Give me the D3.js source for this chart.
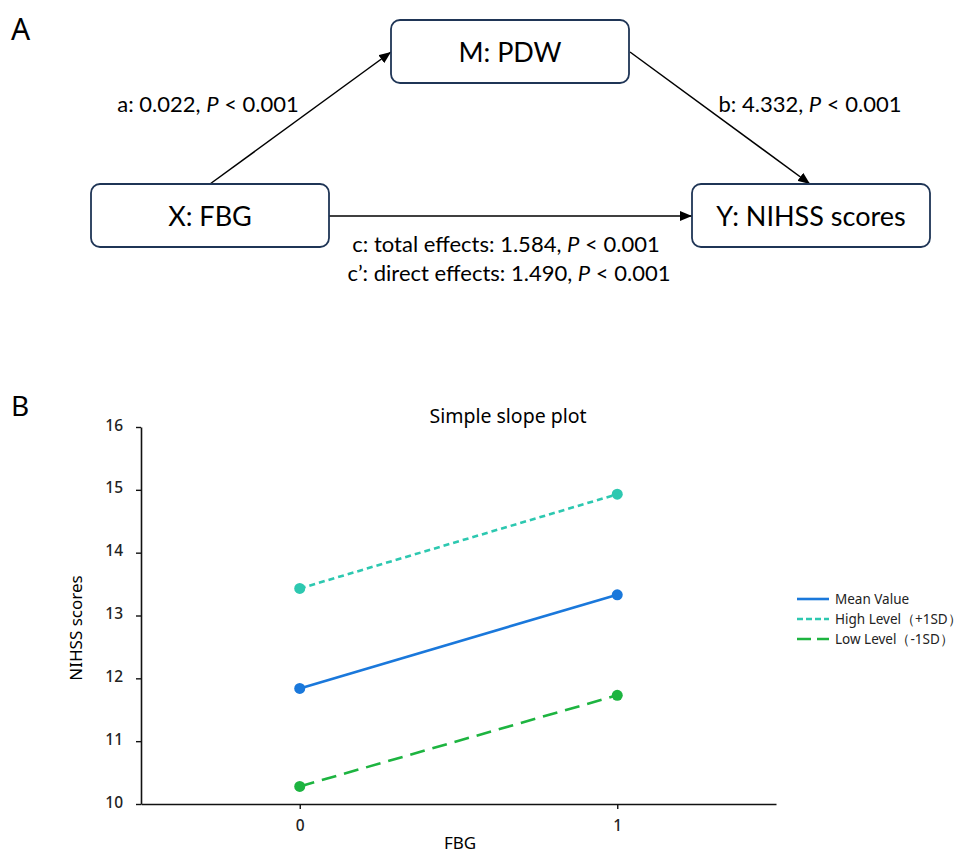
<!DOCTYPE html>
<html>
<head>
<meta charset="utf-8">
<script src="https://cdn.jsdelivr.net/npm/d3@7"></script>
<style>
    body { margin: 0; background: #fff; }
    svg { display: block; }
</style>
</head>
<body>
<div id="chart"></div>
<script>
// Panel A: mediation model
const nodeLabels = ["M: PDW", "X: FBG", "Y: NIHSS scores"];
const pathA = ["a: 0.022, ", "P", " < 0.001"];
const pathB = ["b: 4.332, ", "P", " < 0.001"];
const pathC = ["c: total effects: 1.584, ", "P", " < 0.001"];
const pathC2 = ["c\u2019: direct effects: 1.490, ", "P", " < 0.001"];

// Panel B: simple slope plot
const fbgLevels = [0, 1];
const meanValues = [11.84, 13.33];
const highValues = [13.43, 14.93];
const lowValues = [10.28, 11.73];
const seriesNames = ["Mean Value", "High Level\uff08+1SD\uff09", "Low Level\uff08-1SD\uff09"];
const yTicks = [10, 11, 12, 13, 14, 15, 16];

const width = 964, height = 853;
const svg = d3.select("#chart").append("svg")
    .attr("width", width)
    .attr("height", height);

const diagFont = "Lato, 'Open Sans', sans-serif";
const plotFont = "'Noto Sans', 'Open Sans', sans-serif";

svg.append("text")
    .attr("x", 11).attr("y", 40)
    .style("font-family", plotFont)
    .style("font-size", "30px")
    .text("A");

svg.append("defs").append("marker")
    .attr("id", "arrow")
    .attr("viewBox", "0 0 12 10")
    .attr("refX", 12).attr("refY", 5)
    .attr("markerWidth", 12).attr("markerHeight", 10)
    .attr("markerUnits", "userSpaceOnUse")
    .attr("orient", "auto")
    .append("path")
    .attr("d", "M0,0L12,5L0,10Z")
    .attr("fill", "#000");

// box layout
const boxW = 238, boxH = 63;
const boxes = [
    { x: 391, y: 20 },
    { x: 91, y: 184 },
    { x: 692, y: 184 }
];

const arrows = [
    [[210, 184], [391, 52]],
    [[630, 52], [810, 184]],
    [[328, 216], [692, 216]]
];

svg.selectAll("line.arrow")
    .data(arrows)
    .join("line")
    .attr("class", "arrow")
    .attr("x1", d => d[0][0]).attr("y1", d => d[0][1])
    .attr("x2", d => d[1][0]).attr("y2", d => d[1][1])
    .attr("stroke", "#000")
    .attr("stroke-width", 1.5)
    .attr("marker-end", "url(#arrow)");

const node = svg.selectAll("g.node")
    .data(nodeLabels)
    .join("g")
    .attr("class", "node")
    .attr("transform", (d, i) => `translate(${boxes[i].x},${boxes[i].y})`);

node.append("rect")
    .attr("width", boxW).attr("height", boxH)
    .attr("rx", 9)
    .attr("fill", "#fff")
    .attr("stroke", "#1f3556")
    .attr("stroke-width", 1.8);

node.append("text")
    .attr("x", boxW / 2).attr("y", boxH / 2 + 10)
    .attr("text-anchor", "middle")
    .style("font-family", diagFont)
    .style("font-size", "27px")
    .text(d => d);

function pathLabel(parts, x, y) {
    const t = svg.append("text")
        .attr("x", x).attr("y", y)
        .attr("text-anchor", "middle")
        .style("font-family", diagFont)
        .style("font-size", "22px");
    parts.forEach((p, i) => {
        t.append("tspan")
            .style("font-style", i === 1 ? "italic" : "normal")
            .text(p);
    });
}

pathLabel(pathA, 208, 112);
pathLabel(pathB, 810, 112);
pathLabel(pathC, 506, 252);
pathLabel(pathC2, 509, 281);

// Panel B
svg.append("text")
    .attr("x", 11).attr("y", 416)
    .style("font-family", plotFont)
    .style("font-size", "28px")
    .text("B");

const x = d3.scaleLinear().domain([-0.5, 1.5]).range([141, 776]);
const y = d3.scaleLinear().domain([10, 16]).range([804, 427]);

svg.append("text")
    .attr("x", 508).attr("y", 423)
    .attr("text-anchor", "middle")
    .style("font-family", plotFont)
    .style("font-size", "19.5px")
    .text("Simple slope plot");

const xAxis = svg.append("g")
    .attr("transform", `translate(0,${y(10)})`)
    .call(d3.axisBottom(x).tickValues(fbgLevels).tickFormat(d3.format("d")).tickSize(5).tickSizeOuter(0));

const yAxis = svg.append("g")
    .attr("transform", `translate(${x(-0.5)},0)`)
    .call(d3.axisLeft(y).tickValues(yTicks).tickFormat(d3.format("d")).tickSize(5).tickSizeOuter(0));

[xAxis, yAxis].forEach(a => {
    a.select(".domain").attr("stroke", "#111").attr("stroke-width", 1.6);
    a.selectAll(".tick line").attr("stroke", "#111").attr("stroke-width", 1.4);
    a.selectAll(".tick text")
        .attr("fill", "#222")
        .style("font-family", plotFont)
        .style("font-size", "15.5px")
        .style("font-weight", 500);
});
xAxis.selectAll(".tick text").attr("dy", "1.25em");
yAxis.selectAll(".tick text").attr("x", -18).attr("dy", "0.2em");

svg.append("text")
    .attr("x", 460).attr("y", 849)
    .attr("text-anchor", "middle")
    .style("font-family", plotFont)
    .style("font-size", "17px")
    .text("FBG");

svg.append("text")
    .attr("transform", "translate(82,628) rotate(-90)")
    .attr("text-anchor", "middle")
    .style("font-family", plotFont)
    .style("font-size", "17px")
    .text("NIHSS scores");

const series = [
    { name: seriesNames[0], values: meanValues, color: "#1a78db", dash: null, legendDash: null },
    { name: seriesNames[1], values: highValues, color: "#2dc8b0", dash: "6,4", legendDash: "6,3" },
    { name: seriesNames[2], values: lowValues, color: "#1db440", dash: "15,8", legendDash: "14,6" }
];

const line = d3.line()
    .x((d, i) => x(fbgLevels[i]))
    .y(d => y(d));

const sg = svg.selectAll("g.series")
    .data(series)
    .join("g")
    .attr("class", "series");

sg.append("path")
    .attr("d", d => line(d.values))
    .attr("fill", "none")
    .attr("stroke", d => d.color)
    .attr("stroke-width", 2.6)
    .attr("stroke-dasharray", d => d.dash);

sg.selectAll("circle")
    .data(d => d.values.map(v => ({ v, color: d.color })))
    .join("circle")
    .attr("cx", (d, i) => x(fbgLevels[i]))
    .attr("cy", d => y(d.v))
    .attr("r", 5.5)
    .attr("fill", d => d.color);

// legend, nudged left so the last labels fit in the window
const legend = svg.selectAll("g.legend")
    .data(series)
    .join("g")
    .attr("class", "legend")
    .attr("transform", (d, i) => `translate(797,${599 + i * 20})`);

legend.append("line")
    .attr("x1", 0).attr("x2", 32)
    .attr("stroke", d => d.color)
    .attr("stroke-width", 2.6)
    .attr("stroke-dasharray", d => d.legendDash);

legend.append("text")
    .attr("x", 38).attr("y", 5)
    .style("font-family", plotFont)
    .style("font-size", "13.5px")
    .attr("fill", "#222")
    .text(d => d.name);
</script>
</body>
</html>
